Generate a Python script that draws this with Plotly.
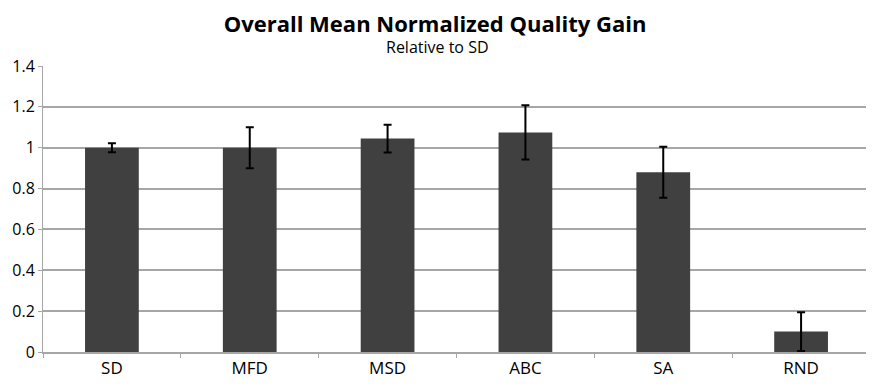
import plotly.graph_objects as go

categories = ["SD", "MFD", "MSD", "ABC", "SA", "RND"]
values = [1.0, 1.0, 1.045, 1.075, 0.88, 0.10]
errors = [0.022, 0.10, 0.068, 0.133, 0.125, 0.095]
y_ticks = [0, 0.2, 0.4, 0.6, 0.8, 1.0, 1.2, 1.4]
y_tick_labels = ["0", "0.2", "0.4", "0.6", "0.8", "1", "1.2", "1.4"]

FONT = "'Open Sans', sans-serif"
W, H = 866, 379

fig = go.Figure(go.Bar(
    x=categories, y=values,
    marker=dict(color="#404040", line=dict(width=0)),
    width=0.39,
    error_y=dict(type="data", array=errors, visible=True,
                 color="#000000", thickness=2, width=4),
))

# page body has an 8px margin; figure sized so the plot lands where the reference has it
fig.update_layout(
    width=W, height=H,
    margin=dict(l=30, r=4, t=58, b=35),
    paper_bgcolor="white", plot_bgcolor="white",
    showlegend=False,
    font=dict(family=FONT, color="#000000", size=15),
    title=dict(text="<b>Overall Mean Normalized Quality Gain</b>",
               x=427 / W, xanchor="center", xref="container",
               y=1 - 16 / H, yanchor="middle", yref="container",
               font=dict(size=22, family=FONT, color="#000000")),
)
fig.add_annotation(text="Relative to SD", xref="paper", yref="paper",
                   x=(427 - 30) / (W - 34), y=1, yanchor="middle", yshift=19, showarrow=False,
                   font=dict(size=16, family=FONT, color="#000000"))

fig.update_yaxes(
    range=[0, 1.4], tickvals=y_ticks, ticktext=y_tick_labels,
    showgrid=True, gridcolor="#a6a6a6", gridwidth=1.5,
    showline=True, linecolor="#a6a6a6", linewidth=1,
    ticks="outside", ticklen=4, tickcolor="#a6a6a6",
    zeroline=False, tickfont=dict(size=16, family=FONT, color="#000000"),
)
fig.update_xaxes(
    showgrid=False, showline=True, linecolor="#a6a6a6", linewidth=1.5,
    ticks="outside", tickson="boundaries", ticklen=4, tickcolor="#a6a6a6",
    tickfont=dict(size=17, family=FONT, color="#000000"),
)

fig.write_html("out.html")
